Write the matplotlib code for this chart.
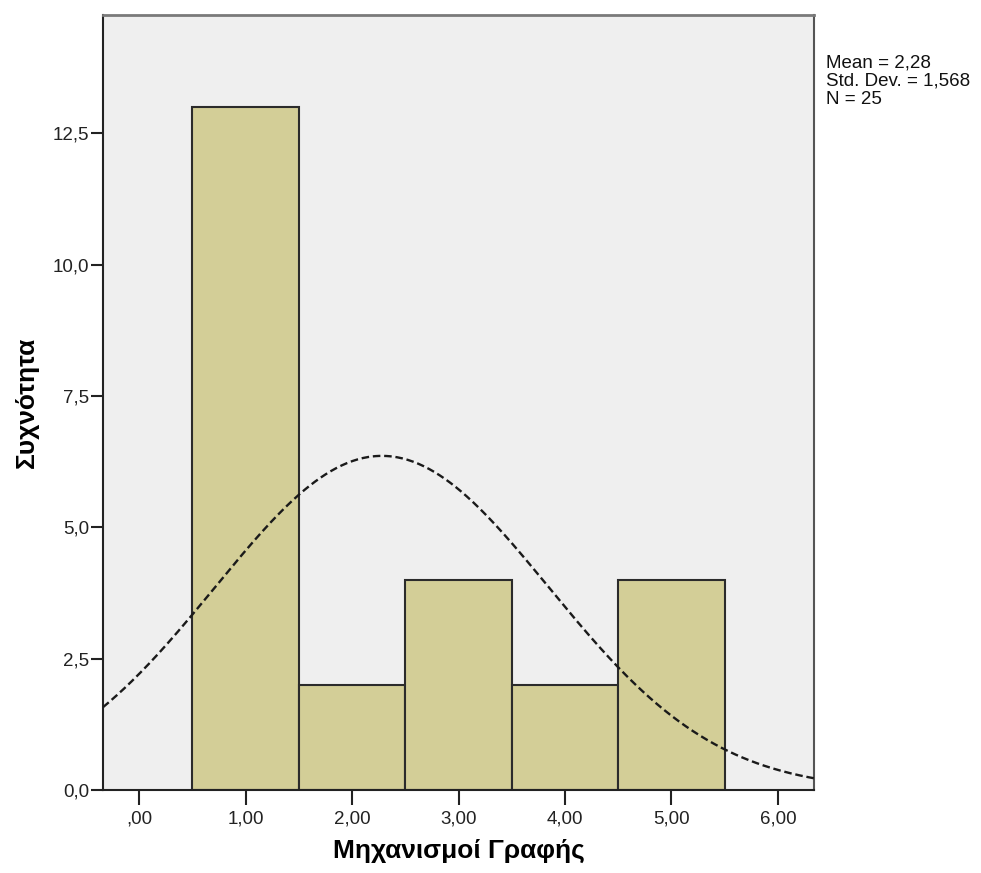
import matplotlib.pyplot as plt
import numpy as np

plt.rcParams["font.family"] = ["Liberation Sans", "DejaVu Sans"]

# Frequency table of the variable
values = [1, 2, 3, 4, 5]
counts = [13, 2, 4, 2, 4]
xtick_values = [0, 1, 2, 3, 4, 5, 6]
xtick_labels = [",00", "1,00", "2,00", "3,00", "4,00", "5,00", "6,00"]
ytick_values = [0, 2.5, 5.0, 7.5, 10.0, 12.5]
ytick_labels = ["0,0", "2,5", "5,0", "7,5", "10,0", "12,5"]

vals = np.array(values, dtype=float)
cnts = np.array(counts, dtype=float)
n = int(cnts.sum())
mean = (vals * cnts).sum() / n
sd = np.sqrt(((vals - mean) ** 2 * cnts).sum() / (n - 1))


def comma(x, digits):
    return f"{x:.{digits}f}".replace(".", ",")


fig = plt.figure(figsize=(9.81, 8.73), dpi=100)
ax = fig.add_axes([0.105, 0.0951, 0.7248, 0.8877])
ax.set_facecolor("#efefef")

ax.bar(vals, cnts, width=1.0, color="#d3ce97", edgecolor="#2b2b2b", linewidth=1.5, zorder=2)

# normal curve scaled to counts (bin width 1)
xs = np.linspace(-0.34, 6.34, 400)
ys = n * 1.0 / (sd * np.sqrt(2 * np.pi)) * np.exp(-0.5 * ((xs - mean) / sd) ** 2)
ax.plot(xs, ys, color="#1a1a1a", linestyle=(0, (3.2, 1.6)), linewidth=1.7, zorder=3)

ax.set_xlim(-0.34, 6.34)
ax.set_ylim(0, 14.75)
ax.set_xticks(xtick_values)
ax.set_xticklabels(xtick_labels)
ax.set_yticks(ytick_values)
ax.set_yticklabels(ytick_labels)
ax.tick_params(axis="both", direction="out", labelsize=13.5, colors="#222222", width=1.5)
ax.tick_params(axis="y", length=9, pad=1)
ax.tick_params(axis="x", length=11, pad=4)

for side in ["left", "bottom"]:
    ax.spines[side].set_color("#222222")
    ax.spines[side].set_linewidth(1.5)
ax.spines["top"].set_color("#7a7a7a")
ax.spines["top"].set_linewidth(2)
ax.spines["right"].set_color("#555555")
ax.spines["right"].set_linewidth(1.5)

ax.set_xlabel("Μηχανισμοί Γραφής", fontsize=19, fontweight="bold", labelpad=8)
ax.set_ylabel("Συχνότητα", fontsize=19, fontweight="bold", labelpad=10)

stats = f"Mean = {comma(mean, 2)}\nStd. Dev. = {comma(sd, 3)}\nN = {n}"
fig.text(826 / 981, 1 - 54 / 873, stats,
         fontsize=13.5, va="top", ha="left", linespacing=1.12, color="#111111")

fig.savefig("out.png", dpi=100)
